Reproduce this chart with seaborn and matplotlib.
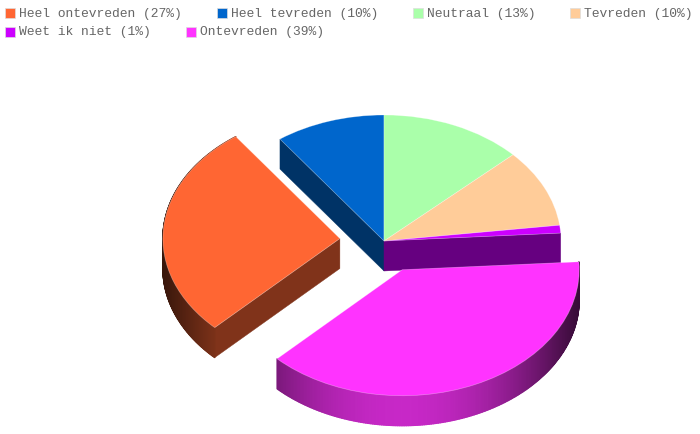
import matplotlib
matplotlib.use('Agg')
import matplotlib.pyplot as plt
from matplotlib.collections import PolyCollection
from matplotlib.patches import Polygon, Rectangle
import numpy as np
import seaborn as sns

# data
categories = ['Heel ontevreden', 'Heel tevreden', 'Neutraal', 'Tevreden', 'Weet ik niet', 'Ontevreden']
values = [27.5, 10, 13, 10, 1, 38.5]
percent_labels = ['27%', '10%', '13%', '10%', '1%', '39%']
hex_colors = ['#FF6633', '#0066CC', '#AAFFAA', '#FFCC99', '#CC00FF', '#FF33FF']
explode = [0.25, 0, 0, 0, 0, 0.25]

W, H = 700, 434
CX, CY = 384, 241   # pie centre in pixels
RX, RY = 177, 126   # pie radii in pixels
DEPTH = 30 / RY     # wall height in y units

sns.set_theme(style='white')
palette = sns.color_palette(hex_colors)

fig = plt.figure(figsize=(W / 100, H / 100), dpi=100)
ax = fig.add_axes([0, 0, 1, 1])


def radial_wall(wedge, angle, color):
    t = np.deg2rad(angle)
    cx, cy = wedge.center
    ex, ey = cx + wedge.r * np.cos(t), cy + wedge.r * np.sin(t)
    pts = [(cx, cy), (ex, ey), (ex, ey - DEPTH), (cx, cy - DEPTH)]
    ax.add_patch(Polygon(pts, closed=True, facecolor=color, edgecolor=color, lw=0.3, zorder=0.5))


def arc_wall(wedge, color):
    # outer wall in narrow strips, dark towards the sides of the ellipse
    angles = np.deg2rad(np.linspace(wedge.theta1, wedge.theta2, 240))
    cx, cy = wedge.center
    xs = cx + wedge.r * np.cos(angles)
    ys = cy + wedge.r * np.sin(angles)
    strips, shades = [], []
    for i in range(len(angles) - 1):
        strips.append([(xs[i], ys[i]), (xs[i + 1], ys[i + 1]),
                       (xs[i + 1], ys[i + 1] - DEPTH), (xs[i], ys[i] - DEPTH)])
        d = np.cos((angles[i] + angles[i + 1]) / 2)
        f = 0.22 + 0.56 * (1 - d ** 2) ** 1.1
        shades.append(np.array(color) * f)
    ax.add_collection(PolyCollection(strips, facecolors=shades, edgecolors=shades, lw=0.9, zorder=0.6))


# top faces, the axes squash the circle to an ellipse
wedges, _ = ax.pie(values, explode=explode, colors=palette, startangle=-135, counterclock=False,
                   radius=1, center=(0, 0),
                   wedgeprops={'edgecolor': (1, 1, 1, 0.35), 'linewidth': 0.5})
ax.set_aspect('auto')
ax.set_xlim(-CX / RX, (W - CX) / RX)
ax.set_ylim((CY - H) / RY, CY / RY)
ax.axis('off')

half = [tuple(np.array(c) * 0.5) for c in palette]
orange, blue, purple, magenta = wedges[0], wedges[1], wedges[4], wedges[5]
radial_wall(blue, blue.theta2, half[1])
radial_wall(purple, purple.theta1, half[4])
arc_wall(orange, palette[0])
radial_wall(orange, orange.theta2, half[0])
arc_wall(magenta, palette[5])

# legend, flowed left to right like the original
x, y = 5, 13
char_w, gap = 7.8, 34
for name, pct, color in zip(categories, percent_labels, palette):
    label = f'{name} ({pct})'
    width = 14 + len(label) * char_w
    if x + width > W:
        x, y = 5, y + 19
    fig.add_artist(Rectangle((x / W, 1 - (y + 5) / H), 10 / W, 10 / H, transform=fig.transFigure,
                             facecolor=color, edgecolor='#dddddd', lw=0.5))
    fig.text((x + 14) / W, 1 - (y + 0.5) / H, label, family='Liberation Mono', fontsize=9.36,
             color='#666666', va='center', ha='left')
    x += width + gap

fig.savefig('out.png', dpi=100)
